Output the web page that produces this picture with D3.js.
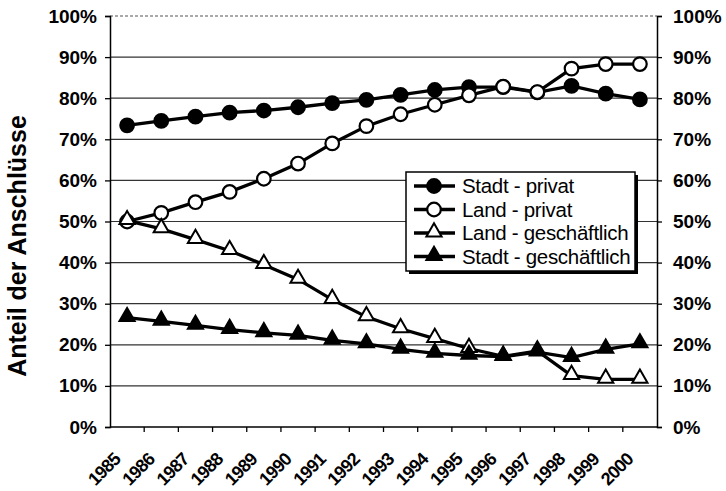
<!DOCTYPE html>
<html>
<head>
<meta charset="utf-8">
<script src="https://cdn.jsdelivr.net/npm/d3@7"></script>
<style>
  body { margin: 0; background: #fff; }
  text { font-family: Arial, "Liberation Sans", sans-serif; fill: #000; }
</style>
</head>
<body>
<div id="chart"></div>
<script>
// data (share of connections, %)
var years = ["1985","1986","1987","1988","1989","1990","1991","1992",
             "1993","1994","1995","1996","1997","1998","1999","2000"];
var stadtPrivat = [73.4, 74.5, 75.5, 76.5, 77.0, 77.8, 78.8, 79.6, 80.8, 82.0, 82.7, 82.7, 81.4, 83.0, 81.1, 79.7];
var landPrivat = [50.0, 52.1, 54.7, 57.2, 60.4, 64.1, 69.0, 73.2, 76.1, 78.4, 80.7, 82.8, 81.5, 87.2, 88.3, 88.3];
var landGesch = [50.2, 48.2, 45.6, 42.9, 39.5, 35.9, 31.0, 26.8, 23.9, 21.5, 19.1, 17.2, 18.5, 12.5, 11.6, 11.6];
var stadtGesch = [26.6, 25.7, 24.7, 23.7, 22.9, 22.3, 21.1, 20.2, 18.9, 17.9, 17.4, 17.1, 18.2, 16.9, 18.9, 20.2];
var yTicks = [0, 10, 20, 30, 40, 50, 60, 70, 80, 90, 100];

var series = [
  {name: "Stadt - privat", values: stadtPrivat, shape: "circle", fill: "#000"},
  {name: "Land - privat", values: landPrivat, shape: "circle", fill: "#fff"},
  {name: "Land - geschäftlich", values: landGesch, shape: "triangle", fill: "#fff"},
  {name: "Stadt - geschäftlich", values: stadtGesch, shape: "triangle", fill: "#000"}
];

var svgWidth = 726, svgHeight = 491;
var margin = {top: 16, bottom: 64, left: 110, right: 69};
var width = svgWidth - margin.left - margin.right;
var height = svgHeight - margin.top - margin.bottom;

var svg = d3.select("#chart").append("svg")
    .attr("width", svgWidth)
    .attr("height", svgHeight);

var chartGroup = svg.append("g")
    .attr("transform", `translate(${margin.left}, ${margin.top})`);

var xScale = d3.scaleBand().domain(years).range([0, width]);
var yScale = d3.scaleLinear().domain([0, 100]).range([height, 0]);

// gridlines
chartGroup.selectAll(".grid")
    .data(yTicks.filter(d => d > 0))
    .enter()
    .append("line")
    .attr("x1", 0).attr("x2", width)
    .attr("y1", d => yScale(d)).attr("y2", d => yScale(d))
    .attr("stroke", d => d === 100 ? "#555" : "#333")
    .attr("stroke-dasharray", d => d === 100 ? "3,2" : null)
    .attr("stroke-width", 1.2);

// y axes, left and right
var yAxisL = d3.axisLeft(yScale).tickValues(yTicks).tickSize(5).tickPadding(8).tickFormat(d => d + "%");
var yAxisR = d3.axisRight(yScale).tickValues(yTicks).tickSize(5).tickPadding(11).tickFormat(d => d + "%");

[chartGroup.append("g").call(yAxisL),
 chartGroup.append("g").attr("transform", `translate(${width}, 0)`).call(yAxisR)]
  .forEach(function(g) {
    g.select(".domain").attr("stroke", "#000").attr("stroke-width", 1.5);
    g.selectAll(".tick line").attr("stroke", "#000").attr("stroke-width", 1.3);
    g.selectAll("text")
        .attr("font-size", "19px")
        .attr("font-weight", "bold")
        .attr("font-family", "Arial, 'Liberation Sans', sans-serif");
  });

// x axis: line, boundary ticks, rotated labels
chartGroup.append("line")
    .attr("x1", 0).attr("x2", width)
    .attr("y1", height).attr("y2", height)
    .attr("stroke", "#000").attr("stroke-width", 1.5);

chartGroup.selectAll(".xtick")
    .data(years.slice(1))
    .enter()
    .append("line")
    .attr("x1", d => xScale(d)).attr("x2", d => xScale(d))
    .attr("y1", height).attr("y2", height + 5)
    .attr("stroke", "#000").attr("stroke-width", 1.3);

chartGroup.selectAll(".xlabel")
    .data(years)
    .enter()
    .append("text")
    .attr("transform", d => `translate(${xScale(d) + xScale.bandwidth() / 2 - 10}, ${height + 29}) rotate(-45)`)
    .attr("text-anchor", "end")
    .attr("dy", "0.35em")
    .attr("font-size", "18px")
    .attr("font-weight", "bold")
    .attr("letter-spacing", "-0.8px")
    .text(d => d);

// series lines
var line = d3.line()
    .x((d, i) => xScale(years[i]) + xScale.bandwidth() / 2)
    .y(d => yScale(d));

chartGroup.selectAll(".series")
    .data(series)
    .enter()
    .append("path")
    .attr("d", d => line(d.values))
    .attr("fill", "none")
    .attr("stroke", "#000")
    .attr("stroke-width", 3.3);

var triangle = d3.symbol().type(d3.symbolTriangle).size(100);

function drawMarker(g, s) {
  if (s.shape === "circle") {
    g.append("circle").attr("r", 6.8)
        .attr("fill", s.fill).attr("stroke", "#000").attr("stroke-width", 2.2);
  } else {
    g.append("path").attr("d", triangle).attr("transform", "translate(0,-1)")
        .attr("fill", s.fill).attr("stroke", "#000").attr("stroke-width", 2)
        .attr("stroke-linejoin", "miter");
  }
}

series.forEach(function(s) {
  s.values.forEach(function(v, i) {
    var g = chartGroup.append("g")
        .attr("transform", `translate(${xScale(years[i]) + xScale.bandwidth() / 2}, ${yScale(v)})`);
    drawMarker(g, s);
  });
});

// legend
var legend = svg.append("g").attr("transform", "translate(406, 172)");
legend.append("rect")
    .attr("x", 3).attr("y", 3).attr("width", 229).attr("height", 99)
    .attr("fill", "#000");
legend.append("rect")
    .attr("width", 229).attr("height", 99)
    .attr("fill", "#fff").attr("stroke", "#000").attr("stroke-width", 1.5);

series.forEach(function(s, i) {
  var row = legend.append("g").attr("transform", `translate(0, ${14 + i * 23.5})`);
  row.append("line")
      .attr("x1", 8).attr("x2", 49)
      .attr("stroke", "#000").attr("stroke-width", 3.3);
  var m = row.append("g").attr("transform", "translate(28, 0)");
  drawMarker(m, s);
  row.append("text")
      .attr("x", 56)
      .attr("dy", "0.36em")
      .attr("font-size", "20.5px")
      .attr("letter-spacing", "-0.3px")
      .text(s.name);
});

// y axis title
svg.append("g")
    .attr("transform", "translate(17, 246)")
    .append("text")
    .attr("text-anchor", "middle")
    .attr("transform", "rotate(-90)")
    .attr("dy", "0.35em")
    .attr("font-size", "25px")
    .attr("font-weight", "bold")
    .text("Anteil der Anschlüsse");
</script>
</body>
</html>
